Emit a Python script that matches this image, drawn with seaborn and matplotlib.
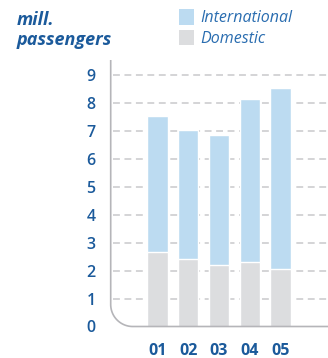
import numpy as np
import pandas as pd
import matplotlib
matplotlib.use("Agg")
import matplotlib.pyplot as plt
from matplotlib.patches import Rectangle
from matplotlib.lines import Line2D
import seaborn as sns

# Passenger traffic, millions
years = ["01", "02", "03", "04", "05"]
domestic = [2.67, 2.42, 2.21, 2.31, 2.06]
international = [4.85, 4.60, 4.64, 5.82, 6.46]
y_ticks = [0, 1, 2, 3, 4, 5, 6, 7, 8, 9]

BLUE_TEXT = "#1b5a9b"
LEGEND_TEXT = "#2a6db0"
INTL_COLOR = "#bcdbf1"
DOM_COLOR = "#dcdddf"
AXIS_COLOR = "#b5b5b9"
GRID_COLOR = "#c9c9cb"

sns.set_theme(style="white")
plt.rcParams["font.family"] = ["Open Sans", "DejaVu Sans"]

W, H, DPI = 328, 358, 100
fig = plt.figure(figsize=(W / DPI, H / DPI), dpi=DPI)

# axes box in pixels (from top-left)
ax_left, ax_right, ax_top, ax_bottom = 110.7, 328.0, 60.0, 326.5
ax = fig.add_axes([ax_left / W, 1 - ax_bottom / H,
                   (ax_right - ax_left) / W, (ax_bottom - ax_top) / H])

df = pd.DataFrame({"year": years, "domestic": domestic,
                   "international": international})
df["total"] = df["domestic"] + df["international"]

sns.barplot(data=df, x="year", y="total", color=INTL_COLOR, saturation=1,
            width=0.66, ax=ax, zorder=3)
sns.barplot(data=df, x="year", y="domestic", color=DOM_COLOR, saturation=1,
            width=0.66, ax=ax, zorder=3)

ax.set_xlim(-1.52, 5.54)
ax.set_ylim(0, 9.54)
ax.set_xlabel("")
ax.set_ylabel("")
for s in ax.spines.values():
    s.set_visible(False)

# dashed horizontal gridlines
for v in y_ticks[1:]:
    ax.axhline(v, xmin=(113 - ax_left) / (ax_right - ax_left), xmax=1,
               color=GRID_COLOR, lw=1.1, ls=(0, (4.5, 3)), zorder=1)

ax.set_yticks(y_ticks)
ax.set_yticklabels([str(t) for t in y_ticks])
ax.tick_params(axis="y", length=0, pad=11, labelsize=11.5,
               labelcolor=BLUE_TEXT)
ax.tick_params(axis="x", length=0, pad=12, labelsize=11.5,
               labelcolor=BLUE_TEXT)
for lab in ax.get_yticklabels():
    lab.set_fontweight("semibold")
for lab in ax.get_xticklabels():
    lab.set_fontweight("bold")

# L-shaped axis line with a rounded lower-left corner (inches)
r = 0.22
x0 = ax_left / DPI
yb = (H - ax_bottom) / DPI
yt = (H - ax_top) / DPI
xr = ax_right / DPI
theta = np.linspace(np.pi, 1.5 * np.pi, 30)
arc_x = x0 + r + r * np.cos(theta)
arc_y = yb + r + r * np.sin(theta)
px = np.concatenate([[x0], arc_x, [xr]])
py = np.concatenate([[yt], arc_y, [yb]])
fig.add_artist(Line2D(px, py, transform=fig.dpi_scale_trans,
                      color=AXIS_COLOR, lw=1.2, solid_capstyle="butt"))

# unit title
fig.text(17 / W, 1 - 25 / H, "mill.", ha="left", va="baseline",
         fontsize=13, fontweight="bold", fontstyle="italic", color=BLUE_TEXT)
fig.text(17 / W, 1 - 45 / H, "passengers", ha="left", va="baseline",
         fontsize=13, fontweight="bold", fontstyle="italic", color=BLUE_TEXT)

# legend
for label, color, top in [("International", INTL_COLOR, 9.5),
                          ("Domestic", DOM_COLOR, 30.0)]:
    fig.add_artist(Rectangle((179 / W, 1 - (top + 15) / H), 15 / W, 15 / H,
                             transform=fig.transFigure, color=color, lw=0))
    fig.text(200 / W, 1 - (top + 13) / H, label, ha="left", va="baseline",
             fontsize=11.5, fontstyle="italic", color=LEGEND_TEXT)

fig.savefig("out.png", dpi=DPI)
